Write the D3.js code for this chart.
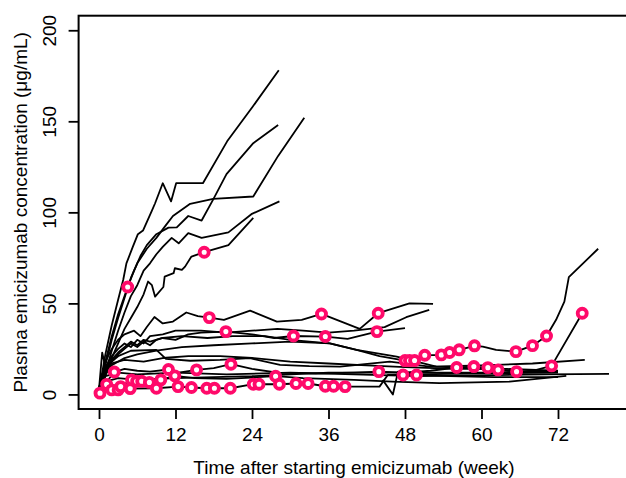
<!DOCTYPE html>
<html lang="en">
<head>
<meta charset="UTF-8">
<title>Plasma emicizumab concentration</title>
<script src="https://d3js.org/d3.v7.min.js"></script>
<style>
  body { margin: 0; background: #fff; }
  svg { display: block; font-family: "Liberation Sans", Arial, sans-serif; }
  .axis text { font-size: 19px; fill: #000; }
  .axis line, .axis path { stroke: #000; stroke-width: 1.8px; }
</style>
</head>
<body>
<div id="chart"></div>
<script>
// tick labels
const xTicks = [0, 12, 24, 36, 48, 60, 72];
const yTicks = [0, 50, 100, 150, 200];

// one array per patient: [week, concentration]
const pt01 = [[0,3],[0.5,12],[1,22],[2,38],[3,52],[3.8,63],[4.3,72],[5.3,81],[6.1,88],[6.9,90],[8.3,101],[8.8,105],[10,116],[11.3,106],[12.1,116],[16.3,116],[20.1,139],[24.1,158],[28.2,178]];
const pt02 = [[0,3],[1,18],[2,32],[3,44],[4.5,59],[5.5,68],[6.5,76],[7.5,82],[9,88],[10.9,91.6],[12.2,91.7],[14,98],[16.1,95.5],[17.9,107],[20,121],[24.2,138],[28.1,148]];
const pt03 = [[0,2],[1,16],[2,30],[3,42],[4,53],[5,64],[6,72],[7.5,80],[9,86],[10.5,93],[11.6,98],[14.3,104.7],[17.9,107.4],[24.2,108.7],[28.1,131],[32.2,152]];
const pt04 = [[0,4],[1,12],[2,24],[3,35],[4,45],[5,54],[6,60],[7,68],[8,72],[9,77],[10,81],[11.4,86],[12.5,83],[14,88.6],[16.1,86],[20.3,89],[23.9,99],[28.3,106]];
const pt05 = [[0,2],[1,10],[2,20],[3,28],[4,36],[5,42],[6,48],[7,55],[7.7,62],[8.3,60],[8.8,53.7],[10.1,59],[10.3,64.7],[11.7,66.6],[11.9,69.3],[13,68.4],[13.5,70.2],[14.5,75.7],[16.5,78.1],[20.3,82],[24.2,97]];
const pt06 = [[0,2],[0.5,10],[1,18],[2,25],[3,30],[4,33],[5.5,35],[6.5,32],[7.5,37],[8.7,42.5],[10,39],[11.6,40],[13.7,45],[15.5,43],[17.3,42.2],[19.6,41],[23.7,46],[27.9,40],[31.8,41],[34.9,44.2],[40.9,36],[43.8,44.6],[48.7,50],[52.4,49.7]];
const pt07 = [[0,1],[1,12],[2,18],[3,22],[4,25],[5,28],[6,26],[7,29],[8,27],[9,30],[10,31],[12,30],[14,33],[16,34],[19.9,34.5],[24,33],[27.5,31],[30.5,32.1],[35.5,31.8],[39,30.5],[43.6,34.5],[48,36.4]];
const pt08 = [[0,2],[1,15],[2,21],[3,25],[4,28],[5,26],[6,30],[7,28],[8,32],[10,33],[12,35],[16,35],[20,34],[24,35],[28,36],[32,35],[36,34],[40,35],[44.8,37],[48.2,42.4],[51.8,46.4]];
const pt09 = [[0,2],[1,14],[2,19],[3,23],[4,26],[5,29],[6,27],[7,30],[8,29],[10,31],[13,32],[17,31],[21,32],[26,32],[30,30],[33,29],[36.2,28],[40.4,24.5],[44,21],[48,18.6],[48.7,18.6],[49.5,18.6],[51.1,21.5],[53.7,21.7],[55,23],[56.5,24.5],[58.9,26.7],[60.2,26.3],[62.3,24.5],[65.4,23.5],[68,26.8],[70.2,32.1],[71.7,41],[73,51],[73.7,64.4],[78.3,80]];
const pt10 = [[0,1],[1,11],[2,16],[4,20],[6,22],[9,24],[13,26],[18,27],[24,28],[30,29],[36.2,28],[40.4,24.5],[46.7,20.8],[52.9,15.3],[60,14],[66,13]];
const pt11 = [[0,3],[0.5,23],[1,15],[2,18],[3,21],[5,24],[9,24.5],[10.5,19.5],[14.3,18.5],[19,19],[23.7,19.9],[28.4,16.2],[33,15.5],[37.8,15.3],[45.6,18],[51.9,15.3],[60,16],[68,17],[76.2,19]];
const pt12 = [[0,1],[1,6],[2.4,12.3],[4,14],[6,13],[8,12.5],[10.9,13.7],[12.5,12],[15.3,13.5],[18,14.5],[20.7,16.6],[24,14],[28,12],[34,11.5],[40,12],[43.9,12.5],[48,12],[52,13],[56.1,14.8],[58.8,15.3],[61,14.7],[62.6,13.5],[65.5,12.5],[68,13],[71,15.7],[75.8,44.6]];
const pt13 = [[0.16,0.7],[1.2,5.5],[2,2.5],[3,2.5],[4.9,3.2],[9,3.4],[12.4,4.3],[14.5,3.8],[16.9,3.4],[18.1,3.4],[20.6,3.4],[24.2,5.6],[25.1,5.6],[28.3,5.6],[30.9,6],[32.8,6],[35.5,4.5],[36.8,4.5],[38.6,4.3],[44,4.3],[45.3,10.7],[47.7,10.7],[49.8,10.7],[55,10],[62,9.5],[72,9.5]];
const pt14 = [[0,1],[1,4],[2,5],[3.4,4.3],[5.1,8],[5.9,7.2],[6.7,7.2],[7.9,6.6],[9.7,8],[11.9,10.2],[15,9],[20,8.5],[27.7,10],[32,9],[40,8],[46,7],[53.4,6.2],[64.4,7],[73.3,10.2]];
const pt15 = [[0,2],[1,10],[3,12],[6,11],[12,12],[20,11],[30,12],[40,11],[50,10],[60,10.5],[70,11],[80,11.3]];
const pt16 = [[0,1],[1,7],[3,9],[6,8],[12,9],[24,10],[36,12],[48,12],[60,12],[72,12.5]];
const pt17 = [[44.5,8],[46.1,0],[46.9,12.5],[50,11],[58,11.5],[72,12]];
const pt18 = [[0,2],[1,13],[2,17],[4,19],[7,18],[10,20],[14,21],[19,21],[24,20],[30,18],[36,17],[42,16],[48,15],[56,14],[64,14],[72,13]];

const patients = [pt01, pt02, pt03, pt04, pt05, pt06, pt07, pt08, pt09,
                  pt10, pt11, pt12, pt13, pt14, pt15, pt16, pt17, pt18];

// samples marked with a pink ring: [week, concentration]
const marked = [[0.16,0.7],[1.2,5.5],[2,2.5],[2.4,12.3],[3,2.5],[3.4,4.3],[4.5,59],[4.9,3.2],[5.1,8],[5.9,7.2],
  [6.7,7.2],[7.9,6.6],[9,3.4],[9.7,8],[10.9,13.7],[11.9,10.2],[12.4,4.3],[14.5,3.8],[15.3,13.5],[16.5,78.1],
  [16.9,3.4],[17.3,42.2],[18.1,3.4],[19.9,34.5],[20.6,3.4],[20.7,16.6],[24.2,5.6],[25.1,5.6],[27.7,10],[28.3,5.6],
  [30.5,32.1],[30.9,6],[32.8,6],[34.9,44.2],[35.5,31.8],[35.5,4.5],[36.8,4.5],[38.6,4.3],[43.6,34.5],[43.8,44.6],
  [43.9,12.5],[47.7,10.7],[48,18.6],[48.7,18.6],[49.5,18.6],[49.8,10.7],[51.1,21.5],[53.7,21.7],[55,23],[56.5,24.5],
  [56.1,14.8],[58.9,26.7],[58.8,15.3],[61,14.7],[62.6,13.5],[65.4,23.5],[65.5,12.5],[68,26.8],[70.2,32.1],[71,15.7],[75.8,44.6]];

const width = 626, height = 478;
const plotLeft = 78.6, plotRight = 629.4, plotTop = 15.7, plotBottom = 409;

const svg = d3.select("#chart").append("svg")
    .attr("width", width)
    .attr("height", height);

const x = d3.scaleLinear().domain([-3.2, 83.2]).range([plotLeft, plotRight]);
const y = d3.scaleLinear().domain([-8, 208]).range([plotBottom, plotTop]);

const line = d3.line()
    .x(d => x(d[0]))
    .y(d => y(d[1]));

// patient trajectories
svg.append("g")
  .selectAll("path")
  .data(patients)
  .join("path")
    .attr("d", line)
    .attr("fill", "none")
    .attr("stroke", "#000")
    .attr("stroke-width", 1.8)
    .attr("stroke-linejoin", "round");

// pink rings
svg.append("g")
  .selectAll("circle")
  .data(marked)
  .join("circle")
    .attr("cx", d => x(d[0]))
    .attr("cy", d => y(d[1]))
    .attr("r", 4.5)
    .attr("fill", "#fff")
    .attr("stroke", "#ff0a6a")
    .attr("stroke-width", 3.9);

// plot box
svg.append("rect")
    .attr("x", plotLeft).attr("y", plotTop)
    .attr("width", plotRight - plotLeft).attr("height", plotBottom - plotTop)
    .attr("fill", "none")
    .attr("stroke", "#000")
    .attr("stroke-width", 2);

// axes
const xAxis = svg.append("g")
    .attr("class", "axis")
    .attr("transform", `translate(0,${plotBottom})`)
    .call(d3.axisBottom(x).tickValues(xTicks).tickSize(10).tickPadding(9));
xAxis.select(".domain").remove();

const yAxis = svg.append("g")
    .attr("class", "axis")
    .attr("transform", `translate(${plotLeft},0)`)
    .call(d3.axisLeft(y).tickValues(yTicks).tickSize(10));
yAxis.select(".domain").remove();
yAxis.selectAll(".tick text")
    .attr("x", null).attr("dy", null).attr("y", null)
    .attr("text-anchor", "middle")
    .attr("transform", "translate(-30,0) rotate(-90) translate(0,7)");

// axis titles
svg.append("text")
    .attr("x", (plotLeft + plotRight) / 2)
    .attr("y", 474)
    .attr("text-anchor", "middle")
    .style("font-size", "19px")
    .text("Time after starting emicizumab (week)");

svg.append("text")
    .attr("transform", `translate(27,${(plotTop + plotBottom) / 2}) rotate(-90)`)
    .attr("text-anchor", "middle")
    .style("font-size", "19px")
    .text("Plasma emicizumab concentration (μg/mL)");
</script>
</body>
</html>
